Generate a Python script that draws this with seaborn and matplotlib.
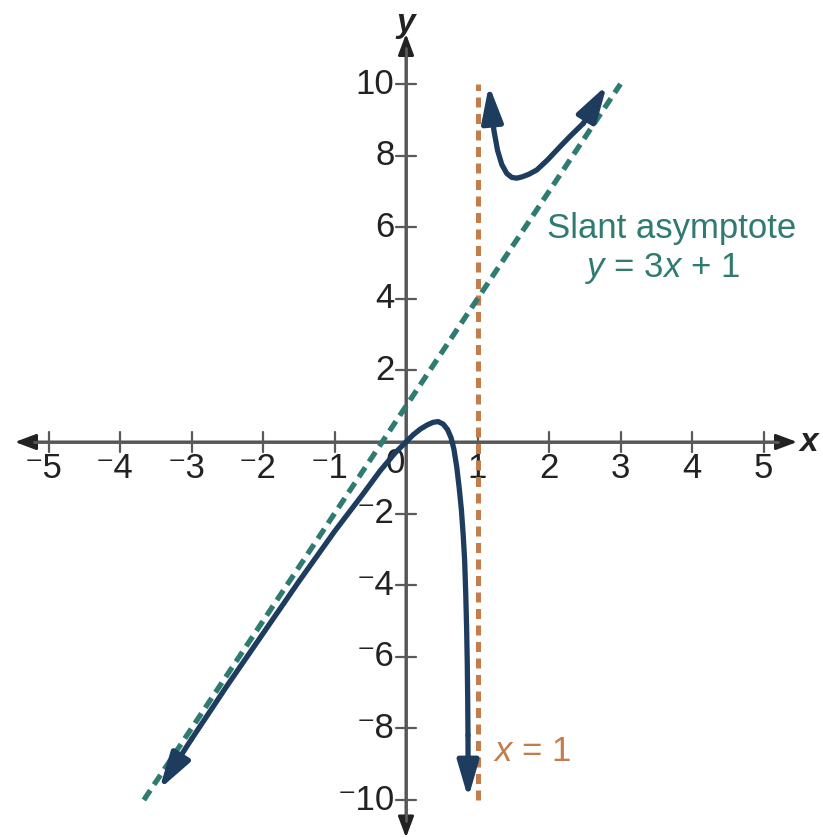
import matplotlib
matplotlib.use("Agg")
import matplotlib.pyplot as plt
import seaborn as sns

# Branches of the rational function, read as (x, y) points
left_x = [-3.45, -3.0, -2.5, -2.0, -1.5, -1.0, -0.6, -0.36, -0.15, 0.0, 0.1, 0.2, 0.3,
          0.38, 0.45, 0.52, 0.58, 0.63, 0.67, 0.71, 0.745, 0.775, 0.80, 0.82,
          0.835, 0.848, 0.857, 0.863, 0.867, 0.87]
left_y = [-9.7, -8.3, -6.8, -5.35, -3.9, -2.5, -1.45, -0.8, -0.3, 0.0, 0.2, 0.36, 0.48,
          0.55, 0.57, 0.5, 0.35, 0.12, -0.2, -0.7, -1.3, -1.9, -2.6, -3.3,
          -4.2, -5.2, -6.2, -7.2, -8.2, -9.95]
right_x = [1.16, 1.19, 1.23, 1.28, 1.34, 1.41, 1.48, 1.55, 1.63, 1.72, 1.83, 1.98,
           2.15, 2.3, 2.48, 2.81]
right_y = [9.97, 9.3, 8.7, 8.15, 7.75, 7.5, 7.39, 7.37, 7.41, 7.48, 7.6, 7.88,
           8.24, 8.55, 8.9, 9.97]

# Asymptotes
slant_x = [-11 / 3, 3]
slant_y = [-10, 10]
vert_x = [1, 1]
vert_y = [-10, 10]

x_ticks = [-5, -4, -3, -2, -1, 1, 2, 3, 4, 5]
y_ticks = [-10, -8, -6, -4, -2, 2, 4, 6, 8, 10]

NAVY = "#1d3c5e"
TEAL = "#2f7b72"
ORANGE = "#c47c4a"
AXIS = "#5a5a5a"
INK = "#222222"
FS = 25

sns.set_theme(style="white")
plt.rcParams["font.family"] = ["Liberation Sans", "DejaVu Sans"]
plt.rcParams["mathtext.fontset"] = "custom"
plt.rcParams["mathtext.rm"] = "Liberation Sans"
plt.rcParams["mathtext.it"] = "Liberation Sans:italic"
plt.rcParams["mathtext.bf"] = "Liberation Sans:bold"

fig = plt.figure(figsize=(8.23, 8.38), dpi=100)
ax = fig.add_axes([0, 0, 1, 1])
ax.set_xlim(-406 / 71.5, (823 - 406) / 71.5)
ax.set_ylim((442 - 838) / 35.8, 442 / 35.8)
ax.axis("off")

# Coordinate axes with arrowheads
axis_arrow = dict(arrowstyle="<|-|>,head_length=0.8,head_width=0.3",
                  color=INK, lw=2.0, mutation_scale=16, shrinkA=0, shrinkB=0)
ax.annotate("", xy=(5.47, 0), xytext=(-5.47, 0), arrowprops=axis_arrow, zorder=1)
ax.annotate("", xy=(0, 11.4), xytext=(0, -11.05), arrowprops=axis_arrow, zorder=1)
ax.plot([-5.2, 5.2], [0, 0], color=AXIS, lw=2.0, zorder=1.1)
ax.plot([0, 0], [-10.6, 11.0], color=AXIS, lw=2.0, zorder=1.1)

for t in x_ticks:
    ax.plot([t, t], [-0.28, 0.28], color=AXIS, lw=1.6, zorder=1.2)
    lab = ("\u207b" + str(abs(t))) if t < 0 else str(t)
    ax.text(t - (0.07 if t < 0 else 0), -0.75, lab, ha="center", va="center",
            fontsize=FS, color=INK, zorder=1.3)
ax.text(-0.15, -0.6, "0", ha="center", va="center", fontsize=FS,
        color=INK, zorder=1.3)
for t in y_ticks:
    ax.plot([-0.14, 0.14], [t, t], color=AXIS, lw=1.6, zorder=1.2)
    lab = ("\u207b" + str(abs(t))) if t < 0 else str(t)
    ax.text(-0.16, t, lab, ha="right", va="center", fontsize=FS,
            color=INK, zorder=1.3)

ax.text(5.64, 0, "x", ha="center", va="center", fontsize=24,
        fontweight="bold", fontstyle="italic", color=INK)
ax.text(0.0, 11.68, "y", ha="center", va="center", fontsize=24,
        fontweight="bold", fontstyle="italic", color=INK)

# Asymptotes
sns.lineplot(x=vert_x, y=vert_y, ax=ax, color=ORANGE, lw=3.6,
             estimator=None, sort=False, zorder=2)
ax.lines[-1].set_dashes((2.0, 1.3))
sns.lineplot(x=slant_x, y=slant_y, ax=ax, color=TEAL, lw=3.8,
             estimator=None, sort=False, zorder=2)
ax.lines[-1].set_dashes((2.2, 1.3))

# Curve branches (end segments drawn as arrows)
sns.lineplot(x=left_x[1:-1], y=left_y[1:-1], ax=ax, color=NAVY, lw=3.8,
             estimator=None, sort=False, zorder=3)
sns.lineplot(x=right_x[1:-1], y=right_y[1:-1], ax=ax, color=NAVY, lw=3.8,
             estimator=None, sort=False, zorder=3)
ax.lines[-1].set_solid_joinstyle("round")
ax.lines[-2].set_solid_joinstyle("round")
for xs, ys in [(left_x, left_y), (right_x, right_y)]:
    for (x0, y0), (x1, y1) in [((xs[1], ys[1]), (xs[0], ys[0])),
                               ((xs[-2], ys[-2]), (xs[-1], ys[-1]))]:
        ax.annotate("", xy=(x1, y1), xytext=(x0, y0),
                    arrowprops=dict(arrowstyle="-|>,head_length=1.1,head_width=0.32",
                                    color=NAVY, lw=3.8, mutation_scale=20,
                                    shrinkA=0, shrinkB=0), zorder=3)

# Labels
ax.text(3.72, 5.95, "Slant asymptote", ha="center", va="center",
        fontsize=FS, color=TEAL)
ax.text(3.58, 4.86, r"$y$ = 3$x$ + 1", ha="center", va="center",
        fontsize=FS, color=TEAL)
ax.text(1.22, -8.65, r"$x$ = 1", ha="left", va="center",
        fontsize=FS, color=ORANGE)

fig.savefig("out.png", dpi=100)
